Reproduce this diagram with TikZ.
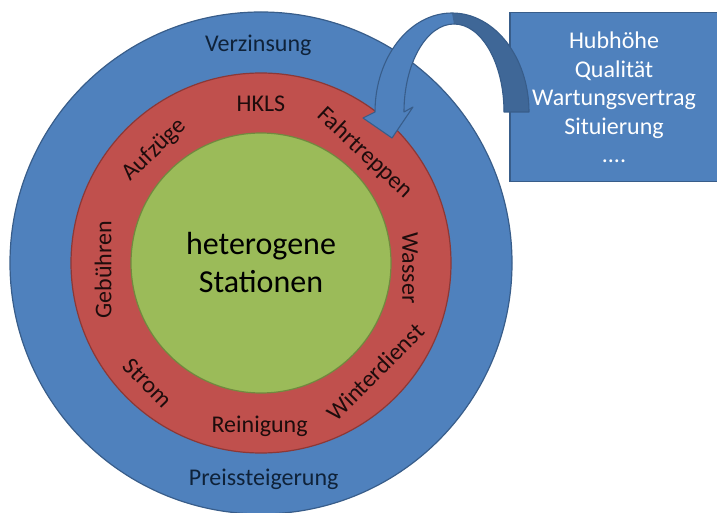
\documentclass[tikz,border=0pt]{standalone}
\usepackage{fontspec}
\setmainfont{Carlito}
\definecolor{RingBlue}{HTML}{4F81BD}
\definecolor{RingBlueLine}{HTML}{385D8A}
\definecolor{RingRed}{HTML}{C0504D}
\definecolor{RingRedLine}{HTML}{8C3836}
\definecolor{RingGreen}{HTML}{9BBB59}
\definecolor{RingGreenLine}{HTML}{71893F}
\definecolor{ArrowShade}{HTML}{3F6797}
\definecolor{BlueInk}{HTML}{0F2239}
\definecolor{RedInk}{HTML}{1E0C0C}

\begin{document}
\begin{tikzpicture}[
    x=1pt, y=1pt,
    font=\fontsize{24}{28.5}\selectfont,
    disc/.style={circle, draw=#1Line, fill=#1, line width=1.2pt,
                 inner sep=0pt},
    infobox/.style={draw=RingBlueLine, fill=RingBlue, line width=1.2pt,
                    text=white, align=center, inner sep=0pt},
    arrowline/.style={draw=RingBlueLine, line width=1.1pt, line join=round},
    outer label/.style={text=BlueInk, inner sep=0pt},
    inner label/.style={text=RedInk, inner sep=0pt}
]
    \useasboundingbox (0,0) rectangle (717,512);
    \coordinate (C) at (261,249);

    % rings
    \node[disc=RingBlue, minimum size=502pt] (outer) at (C) {};
    \node[disc=RingRed, minimum size=380pt] (middle) at (C) {};
    \node[disc=RingGreen, minimum size=260pt, align=center,
          font=\fontsize{32}{38}\selectfont] (core) at (C)
        {heterogene\\Stationen};

    \node[outer label] (verzinsung) at ([shift={(90.7:218)}]C) {Verzinsung};
    \node[outer label] (preis) at ([shift={(-89.3:216)}]C) {Preissteigerung};

    \foreach \ang/\rad/\rot/\name/\txt in {
        90/159.5/0/hkls/HKLS,
        46.6/151/-43/fahrtreppen/Fahrtreppen,
        -1.9/149/-90/wasser/Wasser,
        -43.7/158/45/winterdienst/Winterdienst,
        -90.5/163/0/reinigung/Reinigung,
        -133.3/165/-46/strom/Strom,
        -177.5/158/90/gebuehren/Gebühren,
        133.2/155/44/aufzuege/Aufzüge} {
        \node[inner label, rotate=\rot] (\name) at ([shift={(\ang:\rad)}]C)
            {\txt};
    }

    % detail box
    \node[infobox, minimum width=208pt, minimum height=169pt] (details)
        at (614,414.6)
        {Hubhöhe\\Qualität\\Wartungsvertrag\\Situierung\\....};

    % curved arrow from the box into the ring
    \fill[RingBlue] (529,400)
        arc[start angle=0, end angle=180, x radius=77, y radius=99]
        -- (363,394) -- (392,374) -- (413,405) -- (404,400)
        arc[start angle=180, end angle=0, x radius=50, y radius=88]
        -- cycle;
    \fill[ArrowShade] (529,400)
        arc[start angle=0, end angle=90, x radius=77, y radius=99]
        -- (454,488)
        arc[start angle=90, end angle=0, x radius=50, y radius=88]
        -- cycle;
    \draw[arrowline] (529,400)
        arc[start angle=0, end angle=180, x radius=77, y radius=99]
        -- (363,394) -- (392,374) -- (413,405) -- (404,400)
        arc[start angle=180, end angle=0, x radius=50, y radius=88]
        -- cycle;
\end{tikzpicture}
\end{document}
